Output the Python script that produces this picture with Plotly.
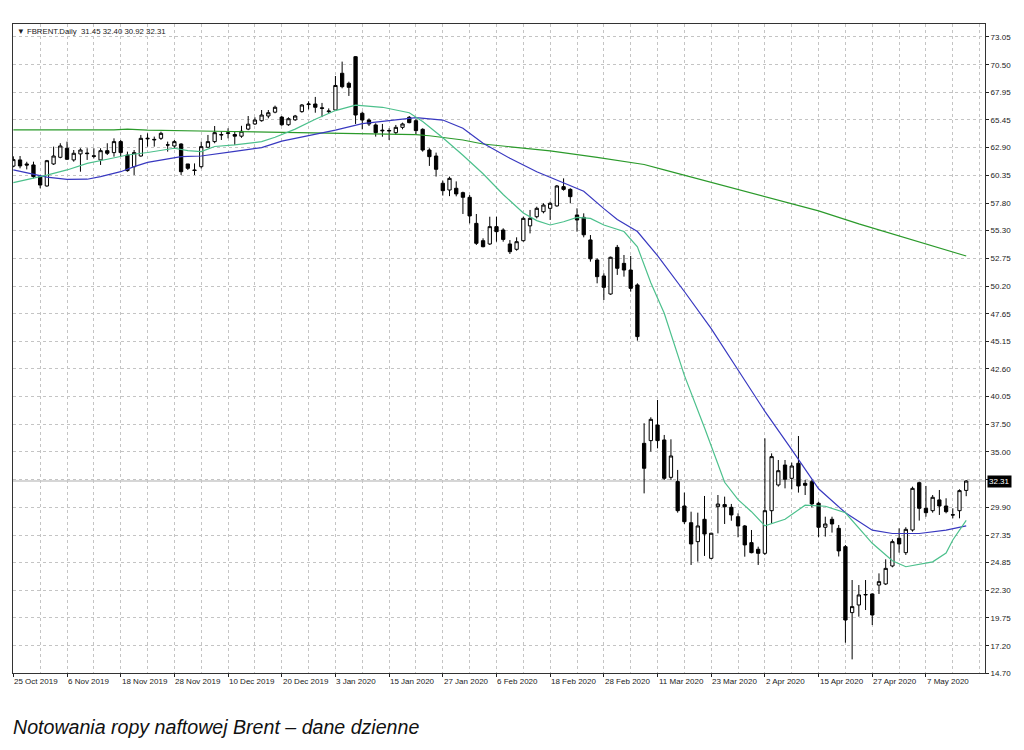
import plotly.graph_objects as go

# ---- Candle data (bar index 0 = 25 Oct 2019, daily trading bars) ----
opens = [61.2, 61.77, 61.4, 61.31, 60.24, 59.38, 61.40, 62.01, 62.84, 61.77,
         62.32, 62.40, 62.15, 61.77, 62.62, 62.44, 63.45, 62.22, 61.15, 62.13,
         63.70, 63.60, 63.75, 63.15, 63.05, 63.23, 61.40, 60.85, 61.15, 62.93,
         63.45, 64.05, 64.20, 64.10, 63.95, 64.60, 65.07, 65.37, 65.80, 66.15,
         65.70, 65.00, 65.45, 66.20, 66.85, 66.90, 66.55, 66.20, 66.35, 69.72,
         68.80, 71.24, 66.05, 65.43, 64.98, 64.50, 64.42, 64.27, 64.76, 65.68,
         65.37, 64.58, 62.68, 62.13, 59.63, 59.01, 59.17, 58.77, 58.34, 55.95,
         54.36, 54.06, 55.65, 55.34, 54.06, 53.57, 54.36, 55.72, 56.56, 57.02,
         57.33, 57.55, 59.32, 59.07, 56.72, 56.50, 54.43, 52.59, 51.12, 49.47,
         53.75, 52.28, 51.67, 50.30, 35.77, 36.02, 37.45, 36.08, 32.65, 32.26,
         30.02, 28.49, 26.75, 28.80, 25.22, 29.96, 30.15, 29.90, 29.04, 28.19,
         26.66, 26.05, 25.68, 29.59, 31.95, 33.78, 32.56, 33.94, 32.10, 32.25,
         30.27, 28.07, 28.80, 27.97, 26.29, 20.24, 20.94, 21.86, 21.95, 22.77,
         22.87, 24.52, 27.06, 25.74, 27.82, 32.16, 29.81, 29.59, 30.58, 30.02,
         29.22, 29.59, 31.45]
highs = [62.1, 62.13, 61.6, 61.61, 60.39, 61.77, 62.99, 63.30, 63.45, 62.68,
         62.84, 62.84, 62.84, 62.84, 63.30, 63.75, 63.60, 62.53, 62.68, 64.06,
         64.21, 63.91, 64.36, 63.45, 63.60, 63.30, 61.40, 61.45, 63.45, 64.06,
         64.88, 64.36, 64.67, 64.36, 64.90, 65.80, 65.68, 66.35, 66.35, 66.75,
         65.80, 65.68, 65.90, 66.90, 67.15, 67.55, 67.00, 66.50, 69.47, 70.79,
         68.95, 71.30, 66.20, 65.58, 65.13, 65.07, 64.67, 64.98, 65.19, 65.80,
         65.50, 64.67, 62.84, 62.44, 59.87, 60.24, 59.80, 58.86, 58.55, 56.81,
         54.58, 56.56, 56.56, 55.50, 54.42, 54.67, 56.56, 57.18, 57.48, 57.79,
         57.94, 59.47, 60.08, 59.17, 57.33, 56.87, 54.88, 52.74, 51.37, 52.90,
         53.97, 53.05, 52.96, 50.45, 37.61, 38.16, 39.75, 36.54, 36.14, 33.33,
         31.25, 29.50, 29.41, 30.94, 27.57, 31.03, 30.88, 30.21, 29.35, 28.28,
         27.82, 26.29, 36.23, 34.85, 34.24, 34.24, 34.00, 36.44, 32.41, 32.41,
         30.42, 29.04, 29.04, 28.28, 26.44, 23.23, 22.77, 23.23, 22.01, 23.84,
         25.13, 26.96, 27.97, 28.07, 31.80, 32.25, 31.86, 31.03, 31.49, 30.73,
         29.81, 31.55, 32.40]
lows = [61.1, 61.0, 60.9, 60.08, 59.17, 59.32, 61.31, 61.92, 61.77, 61.61,
        60.69, 61.77, 61.92, 61.31, 62.22, 62.07, 62.07, 60.69, 60.39, 62.07,
        62.99, 62.99, 63.60, 62.53, 62.84, 60.39, 60.85, 60.39, 60.99, 62.90,
        63.30, 63.60, 63.75, 63.15, 63.80, 64.50, 64.98, 65.28, 65.59, 66.05,
        64.90, 64.90, 65.35, 66.10, 66.40, 66.10, 65.70, 66.00, 66.30, 68.34,
        67.64, 65.07, 64.58, 64.88, 63.91, 63.90, 63.60, 64.06, 64.58, 65.13,
        64.06, 62.53, 61.22, 60.24, 58.50, 58.45, 58.43, 56.81, 55.95, 53.97,
        53.75, 53.97, 54.27, 54.27, 53.14, 53.44, 54.27, 55.03, 56.41, 56.87,
        56.26, 57.48, 58.95, 57.79, 55.19, 54.67, 52.44, 50.45, 48.92, 49.40,
        51.22, 51.06, 49.69, 45.19, 31.18, 35.01, 35.31, 32.41, 32.41, 29.41,
        28.37, 24.61, 24.92, 25.44, 25.13, 27.51, 28.37, 28.67, 27.15, 25.37,
        25.68, 24.61, 25.53, 28.43, 31.80, 31.64, 31.55, 31.25, 31.03, 29.90,
        27.15, 27.21, 27.58, 25.39, 17.48, 15.95, 19.87, 20.48, 19.10, 21.95,
        22.77, 24.40, 25.74, 25.53, 27.67, 28.68, 29.04, 29.41, 29.20, 29.35,
        28.89, 28.89, 30.92]
closes = [61.8, 61.22, 61.3, 60.24, 59.47, 61.70, 62.13, 63.05, 61.83, 62.38,
          62.68, 62.35, 62.10, 62.62, 62.38, 63.45, 62.44, 60.79, 62.44, 63.75,
          63.75, 63.65, 64.21, 63.14, 63.45, 60.69, 61.00, 60.80, 62.99, 63.45,
          64.27, 64.10, 64.25, 63.95, 64.40, 65.05, 65.43, 65.89, 66.10, 66.60,
          65.00, 65.55, 65.80, 66.81, 66.90, 66.60, 66.50, 66.25, 68.60, 68.49,
          68.43, 65.89, 65.43, 65.07, 64.27, 64.45, 64.47, 64.76, 65.07, 65.19,
          64.46, 62.68, 62.07, 60.91, 58.95, 60.08, 58.65, 58.34, 56.63, 54.12,
          53.81, 55.65, 55.19, 54.48, 53.35, 54.27, 56.41, 56.41, 57.33, 57.63,
          57.79, 59.38, 59.07, 58.40, 56.26, 54.90, 52.70, 51.06, 50.08, 52.84,
          51.83, 51.67, 49.99, 45.56, 33.48, 37.97, 36.02, 32.56, 34.61, 29.59,
          28.58, 26.54, 28.19, 27.45, 27.52, 30.20, 29.95, 29.20, 28.19, 26.45,
          25.74, 25.68, 29.59, 34.55, 33.26, 32.47, 33.69, 31.86, 31.92, 30.21,
          28.07, 28.37, 28.37, 25.90, 19.56, 20.79, 21.86, 21.90, 20.02, 23.08,
          24.30, 26.75, 26.54, 27.88, 31.64, 29.81, 29.41, 30.82, 30.02, 29.50,
          29.20, 31.43, 32.31]
bars = list(range(len(closes)))

# ---- Moving averages (bar index, value) ----
ma_fast_idx = [0, 3, 5, 8, 11, 14, 17, 20, 22, 24, 26, 28, 30, 33, 37, 39, 42, 45,
               48, 51, 55, 59, 61, 64, 67, 70, 73, 76, 78, 80, 82, 84, 86, 88, 91,
               93, 95, 97, 100, 103, 106, 108, 110, 112, 115, 118, 121, 124, 128,
               131, 133, 135, 137, 139, 140, 142]
ma_fast_val = [59.68, 60.08, 60.38, 60.85, 61.46, 61.83, 62.22, 62.45, 62.68, 62.84,
               62.62, 62.53, 63.0, 63.15, 63.45, 63.85, 64.6, 65.5, 66.3, 66.8,
               66.6, 66.1, 65.3, 63.8, 62.2, 60.5, 58.6, 56.9, 56.2, 55.8, 56.1,
               56.5, 56.4, 55.8, 55.2, 53.8, 50.5, 47.7, 42.0, 37.2, 32.2, 30.6,
               29.5, 28.2, 28.8, 30.1, 30.0, 29.4, 26.6, 25.0, 24.45, 24.7, 24.9,
               25.7, 26.9, 28.7]
ma_mid_idx = [0, 3, 5, 8, 11, 13, 16, 18, 20, 25, 28, 33, 37, 40, 45, 48, 52, 56,
              60, 64, 67, 70, 74, 78, 81, 85, 88, 90, 93, 96, 100, 104, 108, 112,
              116, 120, 124, 128, 131, 135, 139, 142]
ma_mid_val = [60.85, 60.48, 60.2, 59.99, 60.0, 60.24, 60.69, 61.15, 61.55, 62.07,
              62.13, 62.55, 62.9, 63.5, 64.1, 64.5, 65.1, 65.4, 65.65, 65.43,
              64.67, 63.3, 61.92, 60.69, 59.9, 58.9, 57.3, 56.3, 55.2, 53.0, 49.7,
              46.3, 42.5, 38.7, 35.2, 31.6, 29.4, 27.8, 27.5, 27.5, 27.8, 28.2]
ma_slow_idx = [0, 15, 17, 20, 30, 40, 48, 52, 60, 62, 67, 70, 74, 80, 87, 94, 97,
               106, 113, 120, 126, 132, 137, 142]
ma_slow_val = [64.52, 64.52, 64.6, 64.5, 64.4, 64.3, 64.25, 64.2, 64.1, 63.99,
               63.6, 63.23, 62.99, 62.6, 62.0, 61.35, 60.85, 59.4, 58.25, 57.1,
               55.9, 54.8, 53.9, 52.96]

# ---- Axis labels ----
x_label_idx = [0, 8, 16, 24, 32, 40, 48, 56, 64, 72, 80, 88, 96, 104, 112, 120, 128, 136]
x_labels = ["25 Oct 2019", "6 Nov 2019", "18 Nov 2019", "28 Nov 2019", "10 Dec 2019",
            "20 Dec 2019", "3 Jan 2020", "15 Jan 2020", "27 Jan 2020", "6 Feb 2020",
            "18 Feb 2020", "28 Feb 2020", "11 Mar 2020", "23 Mar 2020", "2 Apr 2020",
            "15 Apr 2020", "27 Apr 2020", "7 May 2020"]
y_ticks = [73.05, 70.50, 67.95, 65.45, 62.90, 60.35, 57.80, 55.30, 52.75, 50.20,
           47.65, 45.15, 42.60, 40.05, 37.50, 35.00, 32.45, 29.90, 27.35, 24.85,
           22.30, 19.75, 17.20, 14.70]
y_tick_text = ["73.05", "70.50", "67.95", "65.45", "62.90", "60.35", "57.80", "55.30",
               "52.75", "50.20", "47.65", "45.15", "42.60", "40.05", "37.50", "35.00",
               "", "29.90", "27.35", "24.85", "22.30", "19.75", "17.20", "14.70"]

FONT = "Liberation Sans, Arial, sans-serif"
GRID = "#c4c4c4"

fig = go.Figure()

fig.add_trace(go.Scatter(x=ma_slow_idx, y=ma_slow_val, mode="lines",
                         line=dict(color="#2b9a2b", width=1.2), hoverinfo="skip"))
fig.add_trace(go.Scatter(x=ma_mid_idx, y=ma_mid_val, mode="lines",
                         line=dict(color="#3838c0", width=1.2), hoverinfo="skip"))
fig.add_trace(go.Scatter(x=ma_fast_idx, y=ma_fast_val, mode="lines",
                         line=dict(color="#4cc08c", width=1.2), hoverinfo="skip"))

fig.add_trace(go.Candlestick(
    x=bars, open=opens, high=highs, low=lows, close=closes,
    increasing=dict(line=dict(color="black", width=1), fillcolor="white"),
    decreasing=dict(line=dict(color="black", width=1), fillcolor="black"),
    whiskerwidth=0))

last = closes[-1]
fig.add_shape(type="line", xref="paper", x0=0, x1=1, yref="y", y0=last, y1=last,
              line=dict(color="#c8c8c8", width=1.5), layer="below")

annotations = []
for idx, lab in zip(x_label_idx, x_labels):
    annotations.append(dict(x=idx, y=0, xref="x", yref="paper", text=lab,
                            showarrow=False, xanchor="left", yanchor="top",
                            xshift=-1, yshift=-2, font=dict(family=FONT, size=8, color="#222")))
annotations.append(dict(x=1, y=last, xref="paper", yref="y", text=f"{last:.2f}",
                        showarrow=False, xanchor="left", yanchor="middle", xshift=2,
                        bgcolor="black", font=dict(family=FONT, size=8, color="white"),
                        borderpad=1))
annotations.append(dict(x=0, y=1, xref="paper", yref="paper",
                        text=f"\u25BC FBRENT.Daily  {opens[-1]:.2f} {highs[-1]:.2f} {lows[-1]:.2f} {closes[-1]:.2f}",
                        showarrow=False, xanchor="left", yanchor="top", xshift=2, yshift=-1,
                        font=dict(family=FONT, size=7.8, color="#222")))
annotations.append(dict(x=0, y=-0.083, xref="paper", yref="paper",
                        text="<i>Notowania ropy naftowej Brent \u2013 dane dzienne</i>",
                        showarrow=False, xanchor="left", yanchor="middle", xshift=-2,
                        font=dict(family=FONT, size=19.6, color="#111")))

fig.update_layout(
    width=1024, height=750,
    margin=dict(l=13, r=39, t=24, b=77),
    paper_bgcolor="white", plot_bgcolor="white",
    showlegend=False,
    font=dict(family=FONT, size=8, color="#222"),
    annotations=annotations,
    xaxis=dict(range=[-0.05, 144.8], rangeslider=dict(visible=False),
               tickmode="array", tickvals=x_label_idx, ticktext=[""] * len(x_label_idx),
               ticks="outside", ticklen=3, tickcolor="#222",
               showgrid=True, gridcolor=GRID, griddash="3px,3px", gridwidth=1,
               minor=dict(tickmode="linear", tick0=0, dtick=4, showgrid=True,
                          gridcolor=GRID, griddash="3px,3px", gridwidth=1, ticks=""),
               showline=True, linecolor="#333", linewidth=1, mirror=True,
               zeroline=False, fixedrange=True),
    yaxis=dict(range=[14.70, 74.24], side="right",
               tickmode="array", tickvals=y_ticks, ticktext=y_tick_text,
               ticks="outside", ticklen=3, tickcolor="#222",
               showgrid=True, gridcolor=GRID, griddash="3px,3px", gridwidth=1,
               showline=True, linecolor="#333", linewidth=1, mirror=True,
               zeroline=False, tickfont=dict(family=FONT, size=8, color="#222")),
)

fig.write_html("out.html", config={"displayModeBar": False},
               post_script="document.body.style.margin='0';")
